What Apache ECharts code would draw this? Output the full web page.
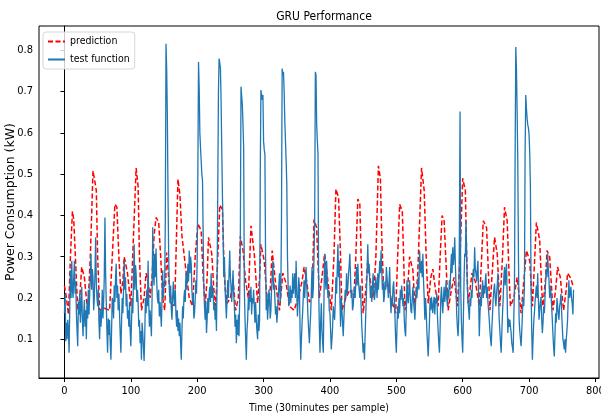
<html>
<head>
    <meta charset="utf-8">
    <script type="text/javascript" src="https://cdn.jsdelivr.net/npm/echarts@6/dist/echarts.min.js"></script>
    <title>gru_performance</title>
    <style>
        html, body {
            margin: 0;
            padding: 0;
            background: #fff;
        }
        #main {
            width: 601px;
            height: 419px;
        }
    </style>
</head>

<body>

<div id="main"></div>

<script type="text/javascript">
    // tick labels
    var xTicks = [0, 100, 200, 300, 400, 500, 600, 700, 800];
    var yTicks = [0.1, 0.2, 0.3, 0.4, 0.5, 0.6, 0.7, 0.8];

    // prediction (red dashed), [sample, kW]
    var predPoints = [
        [0,0.23],[3,0.20],[6,0.16],[9,0.30],[12,0.41],[14,0.39],[17,0.28],[20,0.17],[23,0.2],[26,0.275],
        [30,0.25],[35,0.165],[39,0.3],[43,0.508],[46,0.48],[48,0.46],[50,0.3],[53,0.17],[60,0.175],[68,0.17],
        [72,0.3],[76,0.427],[79,0.42],[82,0.3],[85,0.21],[88,0.24],[90,0.30],[95,0.26],[100,0.18],[104,0.35],
        [108,0.515],[111,0.47],[113,0.3],[116,0.17],[120,0.2],[123,0.26],[126,0.24],[129,0.2],[132,0.25],[135,0.35],
        [138,0.395],[142,0.383],[145,0.3],[148,0.2],[151,0.17],[154,0.31],[157,0.25],[161,0.187],[166,0.18],[168,0.3],
        [171,0.488],[174,0.45],[177,0.35],[183,0.267],[188,0.2],[193,0.18],[197,0.3],[201,0.38],[206,0.363],[209,0.25],
        [212,0.18],[215,0.25],[217,0.347],[222,0.307],[225,0.22],[228,0.18],[231,0.3],[234,0.425],[238,0.415],[240,0.3],
        [242,0.227],[245,0.187],[250,0.2],[254,0.243],[258,0.17],[262,0.2],[265,0.35],[269,0.315],[273,0.24],[277,0.2],
        [281,0.375],[286,0.307],[291,0.187],[294,0.25],[296,0.33],[301,0.29],[306,0.18],[310,0.22],[313,0.315],[318,0.235],
        [324,0.17],[329,0.26],[334,0.235],[339,0.18],[346,0.17],[352,0.2],[358,0.24],[361,0.275],[365,0.24],[369,0.19],
        [373,0.2],[376,0.39],[380,0.37],[384,0.2],[388,0.25],[392,0.307],[397,0.24],[402,0.17],[406,0.3],[409,0.464],
        [413,0.443],[416,0.3],[418,0.17],[424,0.2],[430,0.22],[436,0.2],[439,0.3],[442,0.44],[445,0.427],[447,0.3],
        [450,0.163],[454,0.22],[457,0.29],[461,0.24],[465,0.2],[469,0.29],[473,0.52],[476,0.49],[478,0.35],[481,0.21],
        [486,0.24],[492,0.2],[499,0.163],[502,0.3],[505,0.427],[509,0.41],[511,0.3],[513,0.17],[517,0.22],[520,0.30],
        [525,0.267],[528,0.18],[532,0.25],[535,0.38],[538,0.515],[542,0.46],[545,0.3],[548,0.187],[552,0.25],[555,0.27],
        [559,0.22],[563,0.18],[566,0.3],[569,0.4],[572,0.387],[575,0.28],[578,0.17],[583,0.22],[587,0.25],[592,0.18],
        [596,0.3],[600,0.49],[604,0.46],[606,0.3],[608,0.187],[611,0.22],[614,0.26],[619,0.24],[625,0.18],[628,0.28],
        [631,0.387],[636,0.37],[639,0.25],[641,0.17],[644,0.25],[648,0.347],[652,0.307],[656,0.18],[660,0.3],[663,0.42],
        [667,0.387],[670,0.25],[672,0.18],[677,0.2],[682,0.25],[688,0.163],[692,0.24],[696,0.315],[701,0.29],[705,0.18],
        [708,0.28],[711,0.383],[716,0.34],[719,0.22],[721,0.18],[725,0.25],[727,0.315],[731,0.30],[736,0.17],[740,0.22],
        [743,0.275],[747,0.25],[752,0.17],[756,0.22],[758,0.26],[763,0.247],[766,0.23]
    ];

    // measured (blue), one value per sample starting at 0
    var testValues = [
        0.163,0.21,0.095,0.14,0.1,0.147,0.12,0.067,0.18,0.267, 0.2,0.29,0.22,0.2,0.25,0.29,0.21,0.24,0.163,0.12,
        0.083,0.19,0.16,0.21,0.14,0.18,0.227,0.15,0.107,0.16, 0.195,0.13,0.17,0.1,0.19,0.15,0.22,0.16,0.21,0.25,
        0.307,0.22,0.27,0.25,0.17,0.2,0.26,0.347,0.24,0.2, 0.18,0.22,0.14,0.1,0.17,0.13,0.16,0.22,0.15,0.19,
        0.25,0.395,0.26,0.19,0.12,0.067,0.15,0.11,0.147,0.09, 0.05,0.12,0.2,0.19,0.15,0.23,0.19,0.25,0.283,0.2,
        0.23,0.17,0.21,0.163,0.11,0.067,0.14,0.2,0.163,0.22, 0.29,0.22,0.25,0.18,0.21,0.15,0.17,0.13,0.19,0.12,
        0.083,0.14,0.2,0.163,0.24,0.33,0.22,0.28,0.26,0.19, 0.22,0.187,0.13,0.147,0.09,0.12,0.05,0.14,0.115,0.08,
        0.047,0.11,0.2,0.163,0.22,0.18,0.29,0.19,0.13,0.17, 0.14,0.107,0.2,0.371,0.26,0.23,0.307,0.25,0.32,0.24,
        0.2,0.187,0.22,0.155,0.19,0.16,0.13,0.2,0.267,0.2, 0.24,0.227,0.4,0.816,0.756,0.644,0.45,0.307,0.22,0.187,
        0.23,0.17,0.147,0.2,0.24,0.2,0.18,0.22,0.16,0.13, 0.17,0.12,0.15,0.107,0.14,0.09,0.05,0.12,0.18,0.15,
        0.2,0.22,0.19,0.26,0.22,0.25,0.283,0.24,0.315,0.26, 0.3,0.283,0.22,0.187,0.21,0.15,0.163,0.2,0.243,0.21,
        0.3,0.508,0.772,0.708,0.6,0.564,0.532,0.5,0.484,0.35, 0.227,0.18,0.147,0.19,0.115,0.15,0.2,0.163,0.21,0.227,
        0.19,0.26,0.2,0.23,0.21,0.17,0.19,0.147,0.18,0.12, 0.25,0.467,0.7,0.78,0.77,0.756,0.676,0.56,0.45,0.36,
        0.25,0.3,0.22,0.187,0.15,0.2,0.243,0.2,0.26,0.315, 0.25,0.227,0.19,0.23,0.267,0.21,0.18,0.13,0.16,0.09,
        0.147,0.11,0.16,0.107,0.2,0.347,0.712,0.69,0.668,0.62, 0.564,0.227,0.15,0.1,0.05,0.12,0.147,0.2,0.17,0.22,
        0.19,0.227,0.16,0.2,0.187,0.22,0.18,0.14,0.19,0.147, 0.12,0.1,0.16,0.12,0.147,0.5,0.704,0.7,0.68,0.692,
        0.58,0.56,0.548,0.3,0.17,0.21,0.147,0.18,0.22,0.203, 0.15,0.17,0.22,0.25,0.29,0.22,0.235,0.2,0.16,0.18,
        0.14,0.163,0.2,0.23,0.26,0.19,0.21,0.4,0.756,0.74, 0.748,0.7,0.628,0.58,0.532,0.475,0.3,0.227,0.18,0.203,
        0.23,0.187,0.22,0.2,0.26,0.21,0.235,0.26,0.2,0.29, 0.22,0.155,0.19,0.25,0.227,0.12,0.05,0.1,0.14,0.17,
        0.21,0.243,0.2,0.24,0.275,0.23,0.195,0.15,0.12,0.09, 0.13,0.163,0.22,0.275,0.2,0.227,0.3,0.387,0.748,0.74,
        0.62,0.58,0.548,0.227,0.13,0.067,0.14,0.187,0.12,0.09, 0.067,0.2,0.307,0.25,0.22,0.29,0.24,0.2,0.22,0.17,
        0.163,0.12,0.075,0.1,0.13,0.18,0.16,0.147,0.19,0.25, 0.21,0.27,0.33,0.25,0.29,0.2,0.13,0.2,0.17,0.14,
        0.107,0.15,0.187,0.22,0.2,0.26,0.21,0.227,0.26,0.28, 0.307,0.25,0.2,0.22,0.17,0.18,0.21,0.227,0.2,0.24,
        0.275,0.23,0.283,0.24,0.22,0.2,0.23,0.18,0.13,0.1, 0.067,0.09,0.05,0.11,0.163,0.21,0.27,0.33,0.26,0.283,
        0.24,0.2,0.227,0.19,0.23,0.26,0.22,0.195,0.21,0.25, 0.227,0.2,0.26,0.22,0.25,0.29,0.26,0.315,0.27,0.22,
        0.243,0.19,0.203,0.24,0.22,0.275,0.25,0.227,0.2,0.24, 0.275,0.2,0.163,0.2,0.18,0.227,0.24,0.203,0.15,0.1,
        0.067,0.13,0.18,0.15,0.2,0.163,0.22,0.195,0.23,0.21, 0.18,0.2,0.147,0.12,0.107,0.17,0.243,0.2,0.187,0.22,
        0.243,0.2,0.17,0.163,0.2,0.227,0.19,0.17,0.147,0.19, 0.227,0.2,0.23,0.25,0.22,0.315,0.28,0.26,0.29,0.25,
        0.307,0.24,0.2,0.147,0.2,0.17,0.12,0.09,0.058,0.1, 0.147,0.2,0.17,0.203,0.18,0.163,0.19,0.203,0.16,0.2,
        0.187,0.21,0.155,0.12,0.09,0.067,0.13,0.2,0.227,0.19, 0.163,0.2,0.227,0.19,0.21,0.243,0.2,0.18,0.22,0.2,
        0.243,0.22,0.27,0.307,0.26,0.323,0.28,0.3,0.347,0.28, 0.227,0.16,0.13,0.107,0.147,0.35,0.652,0.227,0.147,0.1,
        0.067,0.15,0.24,0.307,0.3,0.387,0.3,0.227,0.19,0.17, 0.147,0.2,0.18,0.22,0.2,0.243,0.27,0.25,0.323,0.27,
        0.26,0.24,0.27,0.29,0.2,0.107,0.16,0.203,0.18,0.22, 0.243,0.2,0.23,0.21,0.24,0.26,0.2,0.227,0.19,0.17,
        0.147,0.12,0.1,0.083,0.13,0.163,0.2,0.22,0.235,0.2, 0.18,0.21,0.23,0.26,0.2,0.147,0.12,0.09,0.067,0.12,
        0.163,0.2,0.25,0.275,0.23,0.26,0.283,0.2,0.115,0.15, 0.13,0.147,0.13,0.115,0.09,0.08,0.067,0.15,0.227,0.548,
        0.808,0.756,0.652,0.532,0.3,0.147,0.12,0.1,0.083,0.12, 0.163,0.2,0.18,0.227,0.548,0.692,0.66,0.636,0.62,0.612,
        0.596,0.55,0.467,0.227,0.12,0.05,0.1,0.14,0.163,0.19, 0.21,0.23,0.2,0.26,0.2,0.147,0.17,0.19,0.203,0.15,
        0.115,0.14,0.18,0.163,0.2,0.243,0.27,0.25,0.307,0.27, 0.243,0.2,0.23,0.21,0.18,0.147,0.11,0.08,0.058,0.11,
        0.163,0.14,0.2,0.18,0.16,0.147,0.18,0.19,0.21,0.17, 0.13,0.1,0.09,0.075,0.1,0.067,0.1,0.12,0.147,0.2,
        0.243,0.2,0.21,0.227,0.2,0.187,0.16,0.22
    ];

    var chart = echarts.init(document.getElementById('main'), null, {renderer: 'canvas'});

    var narrow = "'Liberation Sans Narrow', 'DejaVu Sans Condensed', 'Liberation Sans', sans-serif";

    var option = {
        animation: false,
        backgroundColor: '#fff',
        title: {
            text: 'GRU Performance',
            left: 319,
            top: 6,
            textAlign: 'center',
            textStyle: {fontFamily: narrow, fontSize: 12, fontWeight: 'normal', color: '#000'}
        },
        legend: {
            orient: 'vertical',
            left: 43,
            top: 32,
            itemWidth: 17,
            itemHeight: 12,
            itemGap: 7,
            padding: [4, 5, 4, 4],
            borderColor: '#d6d6d6',
            borderWidth: 1,
            borderRadius: 3,
            backgroundColor: 'rgba(255,255,255,0.8)',
            itemStyle: {opacity: 0},
            textStyle: {fontFamily: narrow, fontSize: 10.5, color: '#000'},
            data: ['prediction', 'test function']
        },
        grid: {
            left: 39,
            right: 2,
            top: 26,
            bottom: 41,
            outerBoundsMode: 'none',
            show: true,
            borderColor: '#000',
            borderWidth: 1
        },
        xAxis: {
            type: 'value',
            min: -38.35,
            max: 805.35,
            name: 'Time (30minutes per sample)',
            nameLocation: 'middle',
            nameGap: 25,
            nameMoveOverlap: false,
            nameTextStyle: {fontFamily: narrow, fontSize: 10.5, color: '#000'},
            splitLine: {show: false},
            axisLine: {lineStyle: {color: '#000'}},
            axisTick: {length: 4, lineStyle: {color: '#000'}, customValues: xTicks},
            axisLabel: {fontFamily: narrow, fontSize: 11, color: '#000', margin: 8, customValues: xTicks}
        },
        yAxis: {
            type: 'value',
            min: 0.006,
            max: 0.859,
            name: 'Power Consumption (kW)',
            nameLocation: 'middle',
            nameGap: 22,
            nameMoveOverlap: false,
            nameTextStyle: {fontFamily: "'DejaVu Sans', sans-serif", fontSize: 12.5, color: '#000'},
            splitLine: {show: false},
            axisLine: {lineStyle: {color: '#000'}},
            axisTick: {length: 4, lineStyle: {color: '#000'}, customValues: yTicks},
            axisLabel: {
                fontFamily: narrow, fontSize: 11, color: '#000', margin: 6, customValues: yTicks,
                formatter: function (v) { return v.toFixed(1); }
            }
        },
        series: [{
            name: 'prediction',
            type: 'line',
            data: predPoints,
            showSymbol: false,
            symbol: 'none',
            itemStyle: {color: '#ff0000'},
            lineStyle: {color: '#ff0000', width: 1.5, type: [5, 2.5]},
            z: 2
        }, {
            name: 'test function',
            type: 'line',
            data: testValues.map(function (v, i) { return [i, v]; }),
            showSymbol: false,
            symbol: 'none',
            itemStyle: {color: '#1f77b4'},
            lineStyle: {color: '#1f77b4', width: 1.3},
            z: 3
        }]
    };
    chart.setOption(option);
</script>

</body>

</html>
